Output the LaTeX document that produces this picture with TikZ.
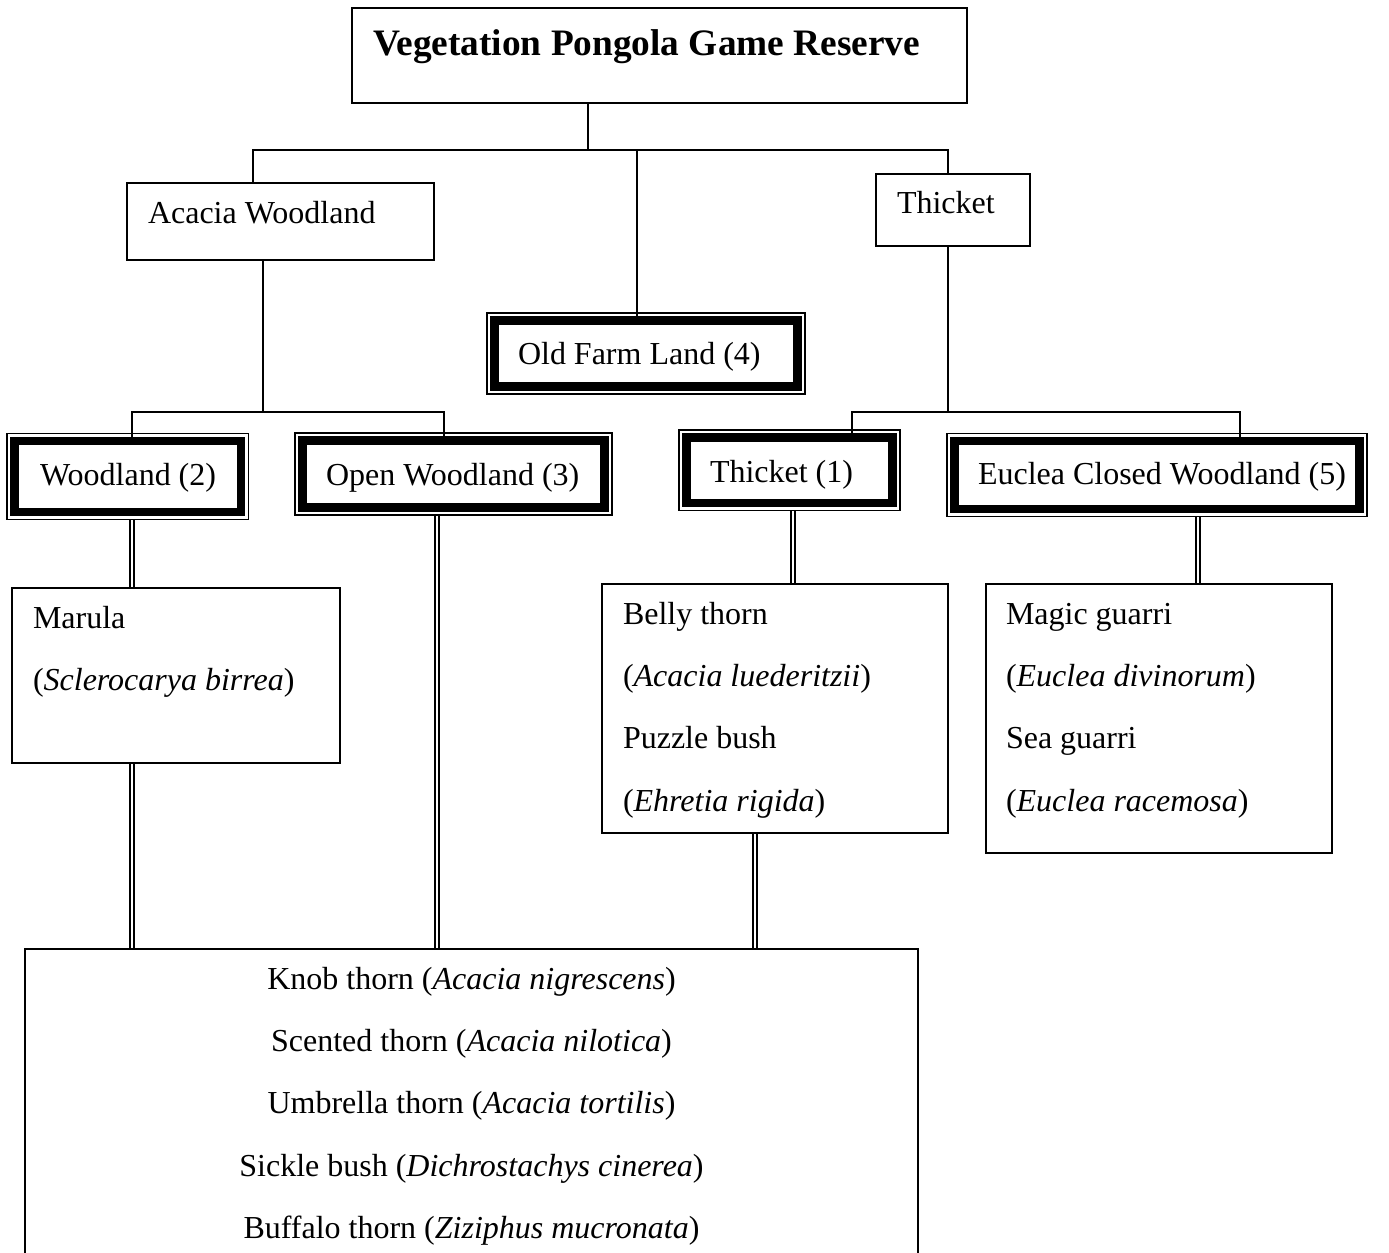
\documentclass[tikz,border=0pt]{standalone}
\usepackage{fontspec}
\setmainfont{Liberation Serif}
\usetikzlibrary{backgrounds,fit}

\tikzset{
  box/.style={draw, line width=0.55pt, inner sep=0pt, outer sep=0pt, anchor=north west,
    align=flush left, font=\fontsize{12}{23.4}\selectfont},
  boldbox/.style={box, line width=3.2pt},
  outerframe/.style={draw, line width=0.55pt, inner sep=2.8pt, outer sep=0pt},
  lpad/.style={execute at begin node={\leftskip=#1\relax}},
  link/.style={line width=0.55pt},
  dline/.style={double, double distance=1pt, line width=0.6pt}
}

\begin{document}
\begin{tikzpicture}[x=0.375pt,y=-0.375pt]
\useasboundingbox (0,0) rectangle (1389,1252);
\clip (0,0) rectangle (1389,1252);

% top of the tree
\node[box, lpad=7.875pt, text width=230.625pt, text height=17.625pt, text depth=18pt,
  font=\bfseries\fontsize{14}{17}\selectfont] (title) at (352,8) {Vegetation Pongola Game Reserve};
\node[box, lpad=7.875pt, text width=115.125pt, text height=15pt, text depth=13.875pt] (acacia) at (127,183) {Acacia Woodland};
\node[box, lpad=7.875pt, text width=57.75pt, text height=14.625pt, text depth=12.375pt] (thicket) at (876,174) {Thicket};

% vegetation units (1)--(5)
\node[boldbox, lpad=8.8125pt, text width=113.625pt, text height=16.3125pt, text depth=8.4375pt] (oldfarm) at (494.5,320.5) {Old Farm Land (4)};
\node[boldbox, lpad=9.5625pt, text width=84.86pt, text height=16.575pt, text depth=10.05pt] (wood) at (14.5,440.8) {Woodland (2)};
\node[boldbox, lpad=8.8125pt, text width=113.25pt, text height=16.6875pt, text depth=8.4375pt] (open) at (302.5,440.5) {Open Woodland (3)};
\node[boldbox, lpad=8.8125pt, text width=77.25pt, text height=16.875pt, text depth=7.6875pt] (thick1) at (686.5,437.5) {Thicket (1)};
\node[boldbox, lpad=8.8125pt, text width=151.875pt, text height=16.125pt, text depth=9.375pt] (euclea) at (954.5,441) {Euclea Closed Woodland (5)};

\node[outerframe, fit=(oldfarm)] (oldfarmF) {};
\node[outerframe, fit=(wood)] (woodF) {};
\node[outerframe, fit=(open)] (openF) {};
\node[outerframe, fit=(thick1)] (thick1F) {};
\node[outerframe, fit=(euclea)] (eucleaF) {};

% species
\node[box, lpad=7.875pt, text width=123pt, text height=15pt, text depth=50.625pt] (marula) at (12,588)
  {Marula\\(\textit{Sclerocarya birrea})};
\node[box, lpad=7.875pt, text width=129.75pt, text height=15pt, text depth=78.375pt] (belly) at (602,584)
  {Belly thorn\\(\textit{Acacia luederitzii})\\Puzzle bush\\(\textit{Ehretia rigida})};
\node[box, lpad=7.5pt, text width=129.75pt, text height=15pt, text depth=85.875pt] (magic) at (986,584)
  {Magic guarri\\(\textit{Euclea divinorum})\\Sea guarri\\(\textit{Euclea racemosa})};
\node[box, align=flush center, text width=334.875pt, text height=15pt, text depth=120pt] (bottom) at (25,949)
  {Knob thorn (\textit{Acacia nigrescens})\\
   Scented thorn (\textit{Acacia nilotica})\\
   Umbrella thorn (\textit{Acacia tortilis})\\
   Sickle bush (\textit{Dichrostachys cinerea})\\
   Buffalo thorn (\textit{Ziziphus mucronata})};

% junctions
\coordinate (hub) at (588,150);
\coordinate (jl) at (253,150);
\coordinate (jr) at (948,150);
\coordinate (jm) at (637,150);
\coordinate (ja) at (263,412);
\coordinate (jaw) at (132,412);
\coordinate (jao) at (444,412);
\coordinate (jt) at (948,412);
\coordinate (jtt) at (852,412);
\coordinate (jte) at (1240,412);
\coordinate (dw) at (132,550);
\coordinate (dop) at (437,730);
\coordinate (dt) at (793,550);
\coordinate (de) at (1198,550);
\coordinate (db) at (755,890);

\begin{scope}[on background layer]
\draw[link] (title.south -| hub) -- (hub);
\draw[link] (acacia.north -| jl) -- (jl) -- (jr) -- (thicket.north -| jr);
\draw[link] (jm) -- (oldfarm.north -| jm);
\draw[link] (acacia.south -| ja) -- (ja);
\draw[link] (wood.north -| jaw) -- (jaw) -- (jao) -- (open.north -| jao);
\draw[link] (thicket.south -| jt) -- (jt);
\draw[link] (thick1.north -| jtt) -- (jtt) -- (jte) -- (euclea.north -| jte);

\draw[dline] (woodF.south -| dw) -- (marula.north -| dw);
\draw[dline] (marula.south -| dw) -- (bottom.north -| dw);
\draw[dline] (openF.south -| dop) -- (bottom.north -| dop);
\draw[dline] (thick1F.south -| dt) -- (belly.north -| dt);
\draw[dline] (belly.south -| db) -- (bottom.north -| db);
\draw[dline] (eucleaF.south -| de) -- (magic.north -| de);
\end{scope}
\end{tikzpicture}
\end{document}
